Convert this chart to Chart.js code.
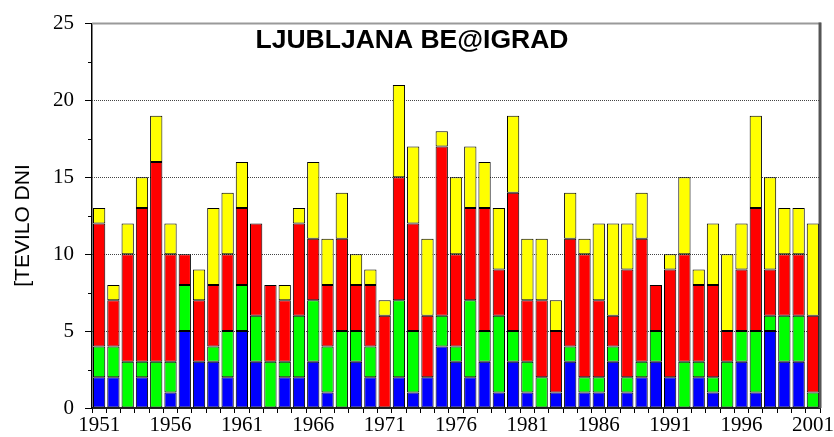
<!DOCTYPE html>
<html>
<head>
<meta charset="utf-8">
<script src="https://cdn.jsdelivr.net/npm/chart.js@4.4.1/dist/chart.umd.min.js"></script>
<style>
html,body{margin:0;padding:0;background:#fff;}
#wrap{width:834px;height:437px;}
</style>
</head>
<body>
<div id="wrap"><canvas id="c" width="834" height="437"></canvas></div>
<script>
const years = [];
for (let y = 1951; y <= 2001; y++) years.push(String(y));
const titleText = 'LJUBLJANA BE@IGRAD';
const yAxisTitle = '[TEVILO DNI';
const blue   = [2,2,0,2,0,1,5,3,3, 2,5,3,0,2,2,3,1, 0,3,2,0,2,1,2,4, 3,2,3,1,3,1,0,1,3, 1,1,3,1,2,3,2,0, 2,1,0,3,1,5,3,3,0];
const green  = [2,2,3,1,3,2,3,0,1, 3,3,3,3,1,4,4,3, 5,2,2,0,5,4,0,2, 1,5,2,5,2,2,2,0,1, 1,1,1,1,1,2,0,3, 1,1,3,2,4,1,3,3,1];
const red    = [8,3,7,10,13,7,2,4,4, 5,5,6,5,4,6,4,4, 6,3,4,6,8,7,4,11, 6,6,8,3,9,4,5,4,7, 8,5,2,7,8,3,7,7, 5,6,2,4,8,3,4,4,5];
const yellow = [1,1,2,2,3,2,0,2,5, 4,3,0,0,1,1,5,3, 3,2,1,1,6,5,5,1, 5,4,3,4,5,4,4,2,3, 1,5,6,3,3,0,1,5, 1,4,5,3,6,6,3,3,6];
const yTicks = [0,5,10,15,20,25];

const decor = {
  id: 'decor',
  beforeDatasetsDraw(chart) {
    const ctx = chart.ctx, a = chart.chartArea, ys = chart.scales.y;
    ctx.save();
    ctx.strokeStyle = '#444'; ctx.lineWidth = 1; ctx.setLineDash([1, 1]);
    for (const v of yTicks) {
      if (v <= 0 || v >= 25) continue;
      const py = Math.round(ys.getPixelForValue(v)) + 0.5;
      ctx.beginPath(); ctx.moveTo(a.left, py); ctx.lineTo(a.right, py); ctx.stroke();
    }
    ctx.restore();
  },
  afterDraw(chart) {
    const ctx = chart.ctx, a = chart.chartArea, ys = chart.scales.y;
    ctx.save();
    ctx.strokeStyle = '#9a9a9a'; ctx.lineWidth = 2;
    ctx.beginPath(); ctx.moveTo(a.left, a.top); ctx.lineTo(a.right + 1, a.top); ctx.stroke();
    ctx.strokeStyle = '#555'; ctx.lineWidth = 3;
    ctx.beginPath(); ctx.moveTo(a.right, a.top - 1); ctx.lineTo(a.right, a.bottom); ctx.stroke();
    ctx.strokeStyle = '#000'; ctx.lineWidth = 1;
    for (let i = 0; i < yTicks.length - 1; i++) {
      const py = Math.round(ys.getPixelForValue((yTicks[i] + yTicks[i + 1]) / 2)) + 0.5;
      ctx.beginPath(); ctx.moveTo(a.left - 4, py); ctx.lineTo(a.left, py); ctx.stroke();
    }
    ctx.fillStyle = '#000';
    ctx.font = 'bold 26.5px "Liberation Sans", Arial, sans-serif';
    ctx.textAlign = 'center'; ctx.textBaseline = 'alphabetic';
    ctx.fillText(titleText, 412, 48);
    ctx.font = '21px "Liberation Sans", Arial, sans-serif';
    ctx.translate(28.5, 225.5);
    ctx.rotate(-Math.PI / 2);
    ctx.fillText(yAxisTitle, 0, 0);
    ctx.restore();
  }
};

const mk = (label, data, color) => ({
  label, data, backgroundColor: color, borderColor: '#000', borderWidth: 1,
  borderSkipped: false, categoryPercentage: 1, barPercentage: 0.86
});

new Chart(document.getElementById('c'), {
  type: 'bar',
  data: {
    labels: years,
    datasets: [
      mk('blue', blue, '#0000ff'),
      mk('green', green, '#00ff00'),
      mk('red', red, '#ff0000'),
      mk('yellow', yellow, '#ffff00')
    ]
  },
  options: {
    responsive: false,
    animation: false,
    layout: { padding: { left: 0, top: 20, right: 11, bottom: 0 } },
    plugins: { legend: { display: false }, tooltip: { enabled: false }, title: { display: false } },
    scales: {
      x: {
        stacked: true,
        afterFit(s) { s.height = 29; },
        grid: { drawOnChartArea: false, drawTicks: true, tickLength: 5, tickColor: '#000', offset: true },
        border: { display: true, color: '#222', width: 2 },
        ticks: {
          autoSkip: false, maxRotation: 0, minRotation: 0, padding: 0, color: '#000',
          font: { family: '"Liberation Serif", "Times New Roman", serif', size: 21 },
          callback(v, i) { return (i % 5 === 0) ? years[i] : ''; }
        }
      },
      y: {
        stacked: true, min: 0, max: 25,
        afterFit(s) { s.width = 92; },
        afterBuildTicks(s) { s.ticks = yTicks.map(v => ({ value: v })); },
        grid: { drawOnChartArea: false, drawTicks: true, tickLength: 7, tickColor: '#000', lineWidth: 1 },
        border: { display: true, color: '#000', width: 1.5 },
        ticks: {
          padding: 11, color: '#000',
          font: { family: '"Liberation Serif", "Times New Roman", serif', size: 21 }
        }
      }
    }
  },
  plugins: [decor]
});
</script>
</body>
</html>
